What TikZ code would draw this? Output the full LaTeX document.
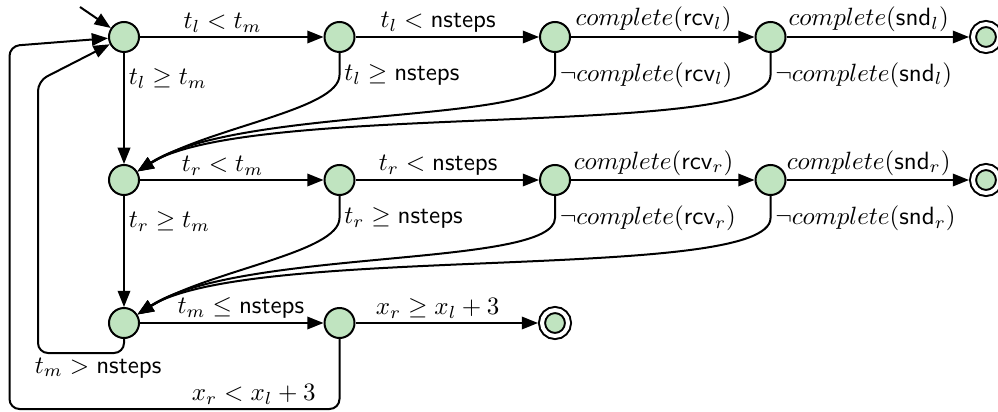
\documentclass[tikz,border=0pt]{standalone}
\usepackage{amsmath,amssymb}
\usepackage{xcolor}
\usepackage{tikz}
\usetikzlibrary{arrows.meta, positioning, calc}
\definecolor{locgreen}{RGB}{192,228,192}

\begin{document}
\begin{tikzpicture}[
  x=0.4pt, y=-0.4pt,
  node distance=57.2pt and 86.2pt, on grid,
  loc/.style={circle, draw=black, line width=0.8pt, fill=locgreen, minimum size=12pt, inner sep=0pt},
  final/.style={loc, minimum size=10.4pt, double, double distance=1.6pt, outer sep=1.6pt},
  arrow/.style={-{Triangle[length=6.5pt, width=5pt]}, line width=0.8pt, draw=black},
  lbl/.style={inner sep=1.5pt}
]
  \useasboundingbox (0,0) rectangle (998,412);

  % Left process (top row)
  \node[loc] (q0) at (124,37) {};
  \node[loc, right=of q0] (q1) {};
  \node[loc, right=of q1] (q2) {};
  \node[loc, right=of q2] (q3) {};
  \node[final, right=of q3] (qf) {};
  \coordinate (init) at (80,7);
  \draw[arrow] (init) -- (q0);
  \draw[arrow] (q0) -- node[lbl, above, pos=0.45] (a01) {$t_l < t_m$} (q1);
  \draw[arrow] (q1) -- node[lbl, above, pos=0.45] (a12) {$t_l < \textsf{nsteps}$} (q2);
  \draw[arrow] (q2) -- node[lbl, above, pos=0.45] (a23) {$complete(\textsf{rcv}_l)$} (q3);
  \draw[arrow] (q3) -- node[lbl, above, pos=0.45] (a3f) {$complete(\textsf{snd}_l)$} (qf);

  % Right process (middle row)
  \node[loc, below=of q0] (r0) {};
  \node[loc, right=of r0] (r1) {};
  \node[loc, right=of r1] (r2) {};
  \node[loc, right=of r2] (r3) {};
  \node[final, right=of r3] (rf) {};
  \draw[arrow] (r0) -- node[lbl, above, pos=0.45] (b01) {$t_r < t_m$} (r1);
  \draw[arrow] (r1) -- node[lbl, above, pos=0.45] (b12) {$t_r < \textsf{nsteps}$} (r2);
  \draw[arrow] (r2) -- node[lbl, above, pos=0.45] (b23) {$complete(\textsf{rcv}_r)$} (r3);
  \draw[arrow] (r3) -- node[lbl, above, pos=0.45] (b3f) {$complete(\textsf{snd}_r)$} (rf);

  % Top row falls back to r0
  \draw[arrow] (q0) -- node[lbl, right, pos=0.23] (c0) {$t_l \geq t_m$} (r0);
  \draw[arrow] (q1) -- ++(0,38) node[lbl, right] (c1) {$t_l \geq \textsf{nsteps}$}
    .. controls +(0,35) and +(85,-53) .. (r0);
  \draw[arrow] (q2) -- ++(0,38) node[lbl, right] (c2) {$\neg complete(\textsf{rcv}_l)$}
    .. controls +(0,50) and +(116,-75) .. (r0);
  \draw[arrow] (q3) -- ++(0,38) node[lbl, right] (c3) {$\neg complete(\textsf{snd}_l)$}
    .. controls +(0,65) and +(126,-80) .. (r0);

  % Middle row falls back to s0
  \node[loc, below=of r0] (s0) {};
  \node[loc, right=of s0] (s1) {};
  \node[final, right=of s1] (sf) {};
  \draw[arrow] (r0) -- node[lbl, right, pos=0.23] (d0) {$t_r \geq t_m$} (s0);
  \draw[arrow] (r1) -- ++(0,38) node[lbl, right] (d1) {$t_r \geq \textsf{nsteps}$}
    .. controls +(0,35) and +(85,-53) .. (s0);
  \draw[arrow] (r2) -- ++(0,38) node[lbl, right] (d2) {$\neg complete(\textsf{rcv}_r)$}
    .. controls +(0,50) and +(116,-75) .. (s0);
  \draw[arrow] (r3) -- ++(0,38) node[lbl, right] (d3) {$\neg complete(\textsf{snd}_r)$}
    .. controls +(0,65) and +(126,-80) .. (s0);

  % Bottom row and loops back to q0
  \draw[arrow] (s0) -- node[lbl, above, pos=0.55] (e01) {$t_m \leq \textsf{nsteps}$} (s1);
  \draw[arrow] (s1) -- node[lbl, above, pos=0.45] (e1f) {$x_r \geq x_l + 3$} (sf);
  \draw[arrow, rounded corners=4pt] (s0) -- ++(0,30) -- ++(-86,0)
    node[lbl, below, pos=0.3] (f0) {$t_m > \textsf{nsteps}$} -- ++(0,-272) -- (q0);
  \draw[arrow, rounded corners=4pt] (s1) -- ++(0,86) -- ++(-330,0)
    node[lbl, above, pos=0.26] (f1) {$x_r < x_l + 3$} -- ++(0,-363) -- (q0);

\end{tikzpicture}
\end{document}
